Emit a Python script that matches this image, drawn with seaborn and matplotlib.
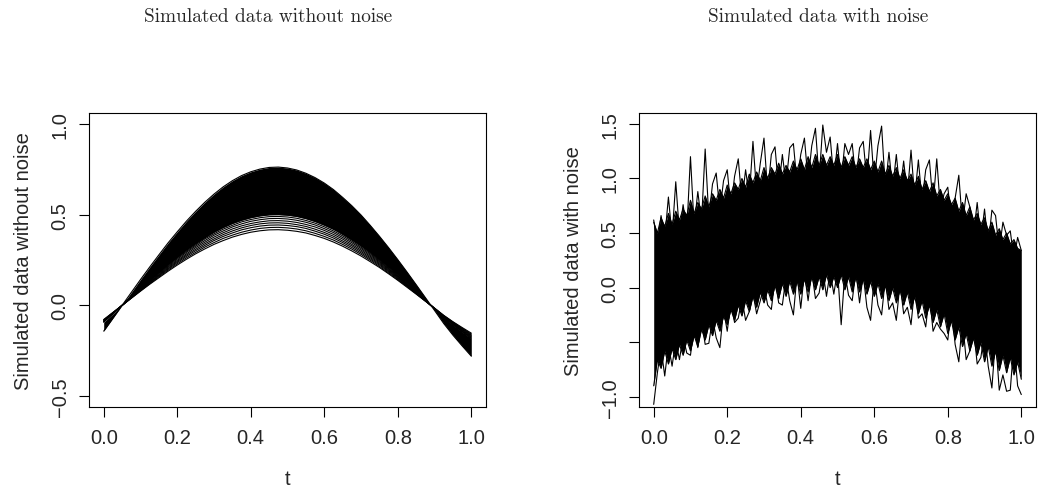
import numpy as np
import matplotlib
matplotlib.use("Agg")
import matplotlib.pyplot as plt
import seaborn as sns

# time grid for the smooth curves (left panel)
t_smooth = [i * 0.025 for i in range(41)]

# outermost curve of the dense bundle (highest peak)
curve_top = [-0.142, -0.071, 0.000, 0.071, 0.142, 0.211, 0.278, 0.344, 0.405, 0.464,
             0.518, 0.568, 0.613, 0.653, 0.687, 0.715, 0.736, 0.751, 0.760, 0.762,
             0.757, 0.746, 0.728, 0.704, 0.674, 0.638, 0.595, 0.549, 0.498, 0.441,
             0.381, 0.318, 0.252, 0.184, 0.114, 0.043, -0.028, -0.100, -0.164, -0.223,
             -0.280]
# lower edge of the dense bundle
curve_dense_low = [-0.093, -0.047, 0.000, 0.047, 0.093, 0.139, 0.183, 0.226, 0.266, 0.305,
                   0.340, 0.373, 0.403, 0.429, 0.451, 0.469, 0.483, 0.493, 0.499, 0.500,
                   0.497, 0.490, 0.478, 0.462, 0.442, 0.419, 0.391, 0.360, 0.327, 0.290,
                   0.250, 0.209, 0.166, 0.121, 0.075, 0.028, -0.019, -0.066, -0.108, -0.146,
                   -0.184]
# individual curves visible below the bundle
curve_a = [-0.091, -0.046, 0.000, 0.046, 0.091, 0.136, 0.179, 0.221, 0.261, 0.298,
           0.333, 0.366, 0.394, 0.420, 0.441, 0.460, 0.473, 0.483, 0.489, 0.490,
           0.487, 0.480, 0.468, 0.453, 0.433, 0.410, 0.383, 0.353, 0.320, 0.284,
           0.245, 0.204, 0.162, 0.118, 0.073, 0.027, -0.018, -0.064, -0.105, -0.143,
           -0.180]
curve_b = [-0.089, -0.045, 0.000, 0.045, 0.089, 0.133, 0.175, 0.216, 0.255, 0.292,
           0.326, 0.357, 0.386, 0.410, 0.432, 0.449, 0.463, 0.472, 0.478, 0.479,
           0.476, 0.469, 0.458, 0.443, 0.423, 0.401, 0.374, 0.345, 0.313, 0.277,
           0.240, 0.200, 0.159, 0.115, 0.071, 0.027, -0.018, -0.063, -0.103, -0.140,
           -0.176]
curve_c = [-0.087, -0.043, 0.000, 0.043, 0.087, 0.129, 0.170, 0.211, 0.248, 0.284,
           0.318, 0.348, 0.376, 0.400, 0.421, 0.438, 0.451, 0.460, 0.466, 0.467,
           0.464, 0.457, 0.446, 0.432, 0.413, 0.391, 0.365, 0.336, 0.305, 0.270,
           0.234, 0.195, 0.155, 0.113, 0.070, 0.026, -0.017, -0.061, -0.100, -0.136,
           -0.172]
curve_d = [-0.085, -0.042, 0.000, 0.042, 0.085, 0.126, 0.166, 0.205, 0.242, 0.277,
           0.309, 0.339, 0.366, 0.390, 0.410, 0.427, 0.440, 0.449, 0.454, 0.455,
           0.452, 0.445, 0.435, 0.420, 0.402, 0.381, 0.355, 0.328, 0.297, 0.263,
           0.228, 0.190, 0.151, 0.110, 0.068, 0.025, -0.017, -0.060, -0.098, -0.133,
           -0.167]
curve_e = [-0.082, -0.041, 0.000, 0.041, 0.082, 0.123, 0.162, 0.200, 0.236, 0.270,
           0.301, 0.330, 0.357, 0.380, 0.399, 0.416, 0.428, 0.437, 0.442, 0.443,
           0.440, 0.434, 0.424, 0.409, 0.392, 0.371, 0.346, 0.319, 0.289, 0.256,
           0.222, 0.185, 0.147, 0.107, 0.066, 0.025, -0.016, -0.058, -0.095, -0.129,
           -0.163]
curve_f = [-0.080, -0.040, 0.000, 0.040, 0.080, 0.119, 0.157, 0.194, 0.229, 0.262,
           0.292, 0.321, 0.346, 0.369, 0.387, 0.403, 0.415, 0.424, 0.429, 0.430,
           0.427, 0.421, 0.411, 0.397, 0.380, 0.360, 0.336, 0.310, 0.281, 0.249,
           0.215, 0.179, 0.142, 0.104, 0.064, 0.024, -0.016, -0.056, -0.092, -0.126,
           -0.158]
curve_g = [-0.078, -0.039, 0.000, 0.039, 0.078, 0.116, 0.152, 0.188, 0.222, 0.254,
           0.284, 0.311, 0.336, 0.357, 0.376, 0.391, 0.403, 0.411, 0.416, 0.417,
           0.414, 0.408, 0.399, 0.385, 0.369, 0.349, 0.326, 0.300, 0.272, 0.241,
           0.209, 0.174, 0.138, 0.100, 0.062, 0.023, -0.015, -0.055, -0.090, -0.122,
           -0.153]
single_curves = [curve_a, curve_b, curve_c, curve_d, curve_e, curve_f, curve_g]

# time grid for the noisy data (right panel)
t_noisy = [i / 100 for i in range(101)]

# jagged edges of the solid mass of noisy curves
core_upper = [0.60, 0.50, 0.64, 0.56, 0.68, 0.58, 0.70, 0.62, 0.72, 0.66,
              0.80, 0.68, 0.78, 0.72, 0.84, 0.74, 0.86, 0.80, 0.90, 0.82,
              0.94, 0.86, 0.96, 0.90, 1.00, 0.92, 1.04, 0.96, 1.06, 0.98,
              1.10, 1.00, 1.10, 1.04, 1.14, 1.04, 1.12, 1.06, 1.16, 1.08,
              1.18, 1.08, 1.20, 1.10, 1.22, 1.12, 1.22, 1.12, 1.20, 1.12,
              1.22, 1.10, 1.20, 1.12, 1.20, 1.10, 1.18, 1.10, 1.18, 1.08,
              1.16, 1.06, 1.16, 1.04, 1.12, 1.02, 1.10, 1.00, 1.08, 0.98,
              1.04, 0.94, 1.02, 0.90, 0.98, 0.88, 0.96, 0.84, 0.90, 0.80,
              0.86, 0.76, 0.82, 0.70, 0.78, 0.66, 0.74, 0.62, 0.68, 0.58,
              0.64, 0.52, 0.60, 0.48, 0.54, 0.44, 0.50, 0.40, 0.44, 0.36,
              0.34]
core_lower = [-0.90, -0.66, -0.74, -0.58, -0.70, -0.56, -0.66, -0.52, -0.62, -0.48,
              -0.58, -0.44, -0.54, -0.38, -0.48, -0.34, -0.44, -0.30, -0.40, -0.26,
              -0.34, -0.20, -0.30, -0.16, -0.26, -0.12, -0.22, -0.08, -0.18, -0.04,
              -0.14, -0.02, -0.12, 0.02, -0.10, 0.04, -0.08, 0.06, -0.06, 0.06,
              -0.06, 0.08, -0.04, 0.10, -0.02, 0.10, -0.02, 0.12, 0.00, 0.10,
              0.00, 0.12, -0.02, 0.10, -0.04, 0.10, -0.04, 0.08, -0.06, 0.06,
              -0.08, 0.04, -0.10, 0.02, -0.12, 0.00, -0.14, -0.02, -0.16, -0.04,
              -0.20, -0.08, -0.24, -0.12, -0.28, -0.16, -0.32, -0.20, -0.36, -0.24,
              -0.42, -0.30, -0.48, -0.36, -0.54, -0.42, -0.58, -0.46, -0.62, -0.50,
              -0.68, -0.54, -0.72, -0.58, -0.76, -0.62, -0.78, -0.64, -0.80, -0.68,
              -0.84]

# single extreme curves sticking out of the mass
spike_upper = [0.62, 0.40, 0.66, 0.45, 0.83, 0.47, 0.97, 0.50, 0.76, 0.52,
               1.20, 0.56, 0.88, 0.60, 1.27, 0.64, 0.95, 1.05, 0.70, 0.98,
               1.08, 0.73, 1.02, 1.18, 0.79, 1.08, 0.83, 1.34, 0.87, 1.14,
               1.37, 0.87, 1.22, 1.29, 0.90, 1.22, 0.95, 1.28, 1.32, 0.95,
               1.22, 1.37, 0.98, 1.30, 1.46, 0.99, 1.49, 1.24, 1.38, 0.99,
               1.32, 0.98, 1.32, 1.22, 1.32, 0.98, 1.28, 1.34, 0.98, 1.44,
               0.96, 1.30, 1.48, 0.92, 1.24, 0.90, 1.22, 0.88, 1.16, 0.85,
               1.26, 0.82, 1.17, 0.79, 1.08, 1.17, 0.76, 1.18, 0.72, 0.86,
               0.92, 0.62, 0.82, 1.03, 0.58, 0.86, 0.74, 0.48, 0.78, 0.44,
               0.72, 0.38, 0.71, 0.66, 0.34, 0.60, 0.48, 0.52, 0.26, 0.46,
               0.34]
spike_lower = [-1.07, -0.78, -0.55, -0.81, -0.52, -0.72, -0.48, -0.66, -0.45, -0.60,
               -0.62, -0.36, -0.55, -0.30, -0.52, -0.51, -0.28, -0.46, -0.55, -0.20,
               -0.40, -0.14, -0.32, -0.28, -0.10, -0.30, -0.22, -0.05, -0.24, -0.12,
               0.02, -0.16, -0.20, 0.08, -0.14, -0.16, 0.10, -0.12, -0.25, 0.12,
               -0.19, 0.14, -0.12, 0.15, -0.10, -0.05, 0.16, -0.08, 0.15, -0.06,
               0.16, -0.34, 0.14, -0.07, -0.12, 0.15, -0.14, 0.12, -0.18, -0.30,
               0.10, -0.16, -0.25, 0.08, -0.20, -0.14, -0.30, 0.04, -0.24, -0.18,
               -0.34, 0.00, -0.28, -0.24, -0.36, -0.06, -0.40, -0.32, -0.38, -0.42,
               -0.48, -0.18, -0.52, -0.68, -0.30, -0.66, -0.58, -0.36, -0.70, -0.64,
               -0.40, -0.72, -0.92, -0.46, -0.94, -0.80, -0.95, -0.94, -0.50, -0.90,
               -0.98]

x_ticks = [0.0, 0.2, 0.4, 0.6, 0.8, 1.0]
left_yticks = [-0.5, 0.0, 0.5, 1.0]
left_yticklabels = ["\u22120.5", "0.0", "0.5", "1.0"]
right_yticks = [-1.0, -0.5, 0.0, 0.5, 1.0, 1.5]
right_yticklabels = ["\u22121.0", "", "0.0", "0.5", "1.0", "1.5"]

sns.set_style("ticks")
plt.rcParams['font.family'] = ['Liberation Sans', 'DejaVu Sans']

fig = plt.figure(figsize=(10.43, 4.89), dpi=100)
ax1 = fig.add_axes([89 / 1043, 81 / 489, 397 / 1043, 294 / 489])
ax2 = fig.add_axes([639 / 1043, 81 / 489, 397 / 1043, 294 / 489])

# left: curves without noise
ax1.fill_between(t_smooth, curve_dense_low, curve_top, color='black', lw=0)
for c in [curve_top, curve_dense_low] + single_curves:
    sns.lineplot(x=t_smooth, y=c, ax=ax1, color='black', lw=0.8,
                 estimator=None, sort=False)

# right: curves with noise
ax2.fill_between(t_noisy, core_lower, core_upper, color='black', lw=0)
for c in [core_upper, core_lower, spike_upper, spike_lower]:
    sns.lineplot(x=t_noisy, y=c, ax=ax2, color='black', lw=0.8,
                 estimator=None, sort=False)

for ax in (ax1, ax2):
    ax.set_xlim(-0.04, 1.04)
    ax.set_xticks(x_ticks)
    ax.set_xticklabels([f"{v:.1f}" for v in x_ticks])
    ax.set_xlabel("t", fontsize=14.5, labelpad=16)
    for s in ax.spines.values():
        s.set_linewidth(0.8)
        s.set_color('black')
    ax.tick_params(axis='both', direction='out', length=7, width=0.8,
                   labelsize=14.5, color='black')
    ax.tick_params(axis='x', pad=8)
    ax.tick_params(axis='y', pad=7)

ax1.set_ylim(-0.56, 1.06)
ax1.set_yticks(left_yticks)
ax1.set_yticklabels(left_yticklabels, rotation=90, va='center')
ax1.set_ylabel("Simulated data without noise", fontsize=14.5, labelpad=12.5)

ax2.set_ylim(-1.094, 1.60)
ax2.set_yticks(right_yticks)
ax2.set_yticklabels(right_yticklabels, rotation=90, va='center')
ax2.set_ylabel("Simulated data with noise", fontsize=14.5, labelpad=12.5)

fig.text(268 / 1043, 1 - 17 / 489, "Simulated data without noise",
         family='cmr10', fontsize=13.9, ha='center', va='center')
fig.text(818 / 1043, 1 - 17 / 489, "Simulated data with noise",
         family='cmr10', fontsize=13.9, ha='center', va='center')

fig.savefig("out.png", dpi=100)
